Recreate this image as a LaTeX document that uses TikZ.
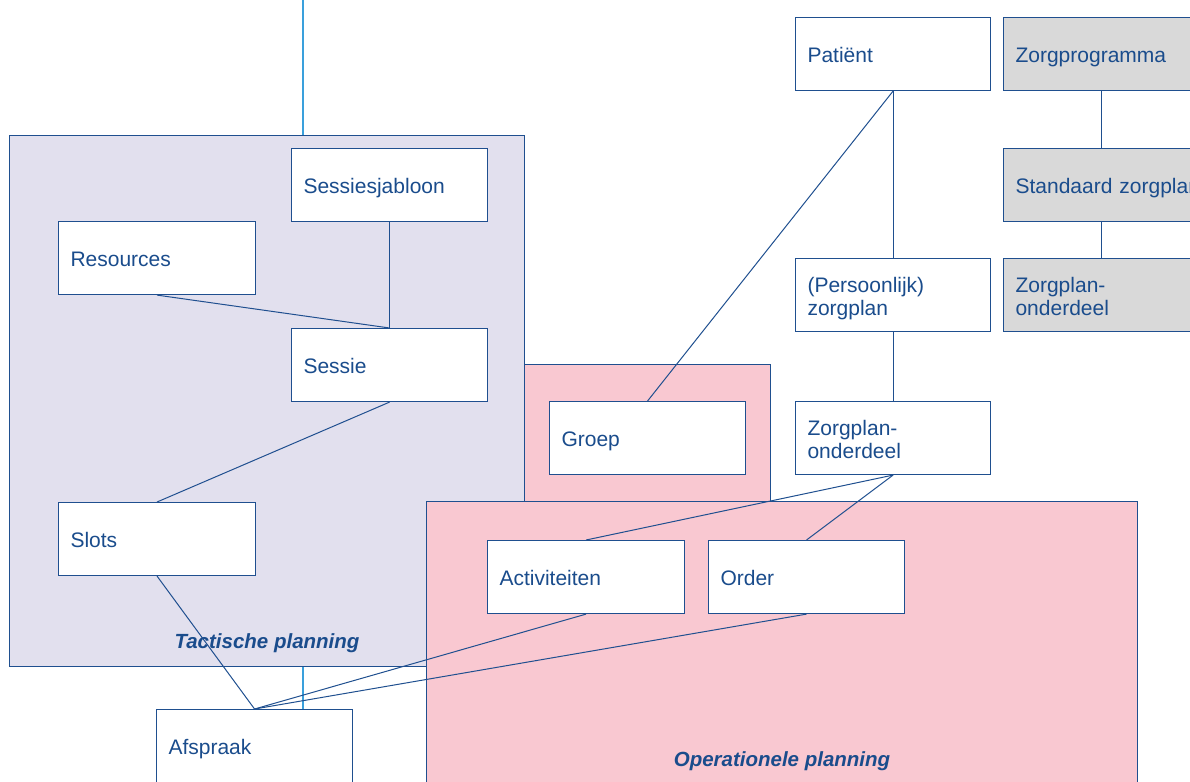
\documentclass[tikz,border=0pt]{standalone}
\usepackage{fontspec}
\setmainfont{Liberation Sans}
\definecolor{txt}{HTML}{1A4C8C}
\definecolor{ln}{HTML}{1F4F8F}
\definecolor{lblue}{HTML}{3AA0DC}
\definecolor{lav}{HTML}{E2E0EE}
\definecolor{pinkbg}{HTML}{F9C8D1}
\definecolor{greybg}{HTML}{D9D9D9}
\tikzset{
  box/.style={draw=ln, line width=1.1pt, fill=white, rectangle, anchor=north west,
    inner xsep=12pt, inner ysep=0pt, align=left, text=txt,
    font=\fontsize{21}{23}\selectfont},
  greybox/.style={box, fill=greybg},
  area/.style={draw=ln, line width=1.1pt, rectangle, anchor=north west, inner sep=0pt},
  conn/.style={draw=ln, line width=1pt},
  lconn/.style={draw=lblue, line width=1.2pt},
  arealabel/.style={text=txt, font=\fontsize{20.5}{24}\selectfont\bfseries\itshape}
}
\begin{document}
\begin{tikzpicture}[x=1pt,y=-1pt]
\useasboundingbox (0,0) rectangle (1190,781);
\clip (0,0) rectangle (1190,781);
% background areas
\node[area, fill=lav, minimum width=515pt, minimum height=531pt] (tact) at (9,135) {};
\node[area, fill=pinkbg, minimum width=246pt, minimum height=137pt] (groepbg) at (524,364) {};
\node[area, fill=pinkbg, minimum width=711pt, minimum height=300pt] (oper) at (426,501) {};
% nodes
\newcommand{\bx}[6]{\node[#1, minimum width=#4pt, minimum height=73pt, text width=#4pt-24pt] (#5) at (#2,#3) {\rule{0pt}{22pt}#6\rule[-5pt]{0pt}{5pt}};}
\bx{box}{795}{17}{195}{patient}{Patiënt}
\bx{greybox}{1003}{17}{196}{zprog}{Zorgprogramma}
\bx{greybox}{1003}{148}{196}{stdzp}{\mbox{Standaard zorgplan}}
\bx{greybox}{1003}{258}{196}{zpogrey}{Zorgplan-\\onderdeel}
\bx{box}{795}{258}{195}{pzp}{(Persoonlijk)\\zorgplan}
\bx{box}{795}{401}{195}{zpo}{Zorgplan-\\onderdeel}
\bx{box}{291}{148}{196}{sjab}{Sessiesjabloon}
\bx{box}{58}{221}{197}{res}{Resources}
\bx{box}{291}{328}{196}{sessie}{Sessie}
\bx{box}{58}{502}{197}{slots}{Slots}
\bx{box}{549}{401}{196}{groep}{Groep}
\bx{box}{487}{540}{197}{act}{Activiteiten}
\bx{box}{708}{540}{196}{order}{Order}
\bx{box}{156}{709}{196}{afspraak}{Afspraak}
% area labels
\node[arealabel] (tactlbl) at (267,643) {Tactische planning};
\node[arealabel] (operlbl) at (782,761) {Operationele planning};
% light blue lines
\coordinate (topend) at (303,0);
\draw[lconn] (topend) -- (topend |- tact.north);
\draw[lconn] (topend |- tact.south) -- (topend |- afspraak.north);
% connectors
\draw[conn] (zprog.south) -- (stdzp.north);
\draw[conn] (stdzp.south) -- (zpogrey.north);
\draw[conn] (patient.south) -- (pzp.north);
\draw[conn] (patient.south) -- (groep.north);
\draw[conn] (pzp.south) -- (zpo.north);
\draw[conn] (zpo.south) -- (act.north);
\draw[conn] (zpo.south) -- (order.north);
\draw[conn] (sjab.south) -- (sessie.north);
\draw[conn] (res.south) -- (sessie.north);
\draw[conn] (sessie.south) -- (slots.north);
\draw[conn] (slots.south) -- (afspraak.north);
\draw[conn] (act.south) -- (afspraak.north);
\draw[conn] (order.south) -- (afspraak.north);
\end{tikzpicture}
\end{document}
